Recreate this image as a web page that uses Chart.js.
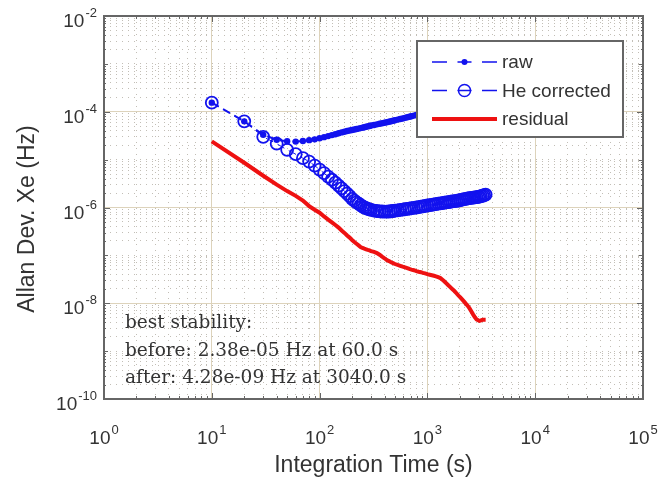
<!DOCTYPE html>
<html>
<head>
<meta charset="utf-8">
<script src="https://cdn.jsdelivr.net/npm/chart.js@4"></script>
<style>
body { margin: 0; background: #fff; }
#wrap { width: 663px; height: 480px; position: relative; }
</style>
</head>
<body>
<div id="wrap"><canvas id="myChart"></canvas></div>
<script>
// integration times (s)
const tau = [10, 20, 30, 40, 50, 60, 70, 80, 90, 100, 110, 120, 130, 140, 150, 160, 170, 180, 190, 200,
    210, 220, 230, 240, 250, 260, 270, 280, 290, 300,
    320, 340, 360, 380, 400, 420, 440, 460, 480, 500,
    530, 560, 590, 620, 650, 680, 710, 750, 790, 830, 870, 910, 950, 1000,
    1050, 1100, 1150, 1200, 1260, 1320, 1380, 1440, 1500, 1570, 1640, 1710, 1780, 1860, 1940, 2020,
    2100, 2190, 2280, 2370, 2460, 2560, 2660, 2760, 2860, 2960, 3040, 3140, 3250, 3360, 3470];

const rawDev = [1.55e-4, 6.3e-5, 3.3e-5, 2.6e-5, 2.42e-5, 2.38e-5, 2.45e-5, 2.55e-5, 2.65e-5, 2.8e-5,
    2.95e-5, 3.1e-5, 3.25e-5, 3.4e-5, 3.55e-5, 3.7e-5, 3.82e-5, 3.95e-5, 4.05e-5, 4.15e-5,
    4.25e-5, 4.35e-5, 4.45e-5, 4.55e-5, 4.65e-5, 4.75e-5, 4.85e-5, 4.95e-5, 5.05e-5, 5.15e-5,
    5.3e-5, 5.45e-5, 5.6e-5, 5.75e-5, 5.9e-5, 6.05e-5, 6.2e-5, 6.35e-5, 6.5e-5, 6.65e-5,
    6.85e-5, 7.05e-5, 7.25e-5, 7.45e-5, 7.65e-5, 7.85e-5, 8.05e-5, 8.3e-5, 8.55e-5, 8.8e-5, 9.05e-5, 9.3e-5, 9.55e-5, 9.8e-5,
    1.01e-4, 1.04e-4, 1.07e-4, 1.1e-4, 1.13e-4, 1.16e-4, 1.19e-4, 1.22e-4, 1.25e-4, 1.28e-4, 1.31e-4, 1.34e-4, 1.37e-4, 1.41e-4, 1.45e-4, 1.49e-4,
    1.53e-4, 1.57e-4, 1.61e-4, 1.65e-4, 1.69e-4, 1.73e-4, 1.77e-4, 1.81e-4, 1.85e-4, 1.89e-4, 1.92e-4, 1.96e-4, 2.0e-4, 2.04e-4, 2.08e-4];

const heCorrected = [1.55e-4, 6.3e-5, 3.0e-5, 2.15e-5, 1.6e-5, 1.3e-5, 1.07e-5, 9.1e-6, 7.5e-6, 6.2e-6,
    5.2e-6, 4.4e-6, 3.8e-6, 3.3e-6, 2.85e-6, 2.5e-6, 2.2e-6, 1.95e-6, 1.72e-6, 1.52e-6,
    1.39e-6, 1.28e-6, 1.2e-6, 1.12e-6, 1.06e-6, 1.0e-6, 9.7e-7, 9.4e-7, 9.1e-7, 8.9e-7,
    8.6e-7, 8.45e-7, 8.3e-7, 8.25e-7, 8.2e-7, 8.2e-7, 8.25e-7, 8.35e-7, 8.45e-7, 8.6e-7,
    8.75e-7, 8.9e-7, 9.05e-7, 9.2e-7, 9.35e-7, 9.5e-7, 9.65e-7, 9.85e-7, 1.0e-6, 1.02e-6, 1.04e-6, 1.06e-6, 1.08e-6, 1.1e-6,
    1.12e-6, 1.14e-6, 1.16e-6, 1.18e-6, 1.2e-6, 1.22e-6, 1.24e-6, 1.26e-6, 1.28e-6, 1.3e-6, 1.32e-6, 1.34e-6, 1.36e-6, 1.38e-6, 1.4e-6, 1.43e-6,
    1.46e-6, 1.49e-6, 1.52e-6, 1.55e-6, 1.57e-6, 1.59e-6, 1.61e-6, 1.63e-6, 1.65e-6, 1.67e-6, 1.69e-6, 1.72e-6, 1.76e-6, 1.81e-6, 1.86e-6];

const residual = [2.4e-5, 8.6e-6, 4.6e-6, 3.0e-6, 2.2e-6, 1.75e-6, 1.4e-6, 1.07e-6, 9.0e-7, 7.8e-7,
    6.5e-7, 5.6e-7, 4.9e-7, 4.3e-7, 3.8e-7, 3.3e-7, 2.95e-7, 2.6e-7, 2.35e-7, 2.1e-7,
    1.9e-7, 1.75e-7, 1.62e-7, 1.5e-7, 1.43e-7, 1.38e-7, 1.34e-7, 1.3e-7, 1.27e-7, 1.23e-7,
    1.18e-7, 1.12e-7, 1.03e-7, 9.4e-8, 8.7e-8, 8.0e-8, 7.6e-8, 7.2e-8, 6.9e-8, 6.6e-8,
    6.3e-8, 6.05e-8, 5.8e-8, 5.6e-8, 5.4e-8, 5.2e-8, 5.05e-8, 4.9e-8, 4.7e-8, 4.55e-8, 4.45e-8, 4.3e-8, 4.2e-8, 4.05e-8,
    3.95e-8, 3.85e-8, 3.75e-8, 3.65e-8, 3.5e-8, 3.35e-8, 3.1e-8, 2.85e-8, 2.6e-8, 2.35e-8, 2.15e-8, 1.95e-8, 1.8e-8, 1.62e-8, 1.45e-8, 1.32e-8,
    1.2e-8, 1.08e-8, 9.7e-9, 8.8e-9, 7.8e-9, 6.7e-9, 5.8e-9, 5.1e-9, 4.6e-9, 4.4e-9, 4.28e-9, 4.4e-9, 4.5e-9, 4.5e-9, 4.5e-9];

const xLabelExps = [0, 1, 2, 3, 4, 5];
const yLabelExps = [-2, -4, -6, -8, -10];
const legendLabels = ['raw', 'He corrected', 'residual'];
const noteLines = ['best stability:', 'before: 2.38e-05 Hz at 60.0 s', 'after: 4.28e-09 Hz at 3040.0 s'];

const BLUE = '#1212ee';
const RED = '#ee1111';
const AXIS = '#666';
const TEXT = '#333';
const MAJOR_GRID = '#ddd3bb';
const MINOR_GRID = '#c2beb6';

function logTicks(lo, hi)
{
    let out = [];
    for (let n = lo; n < hi; n++)
    {
        for (let k = 1; k < 10; k++) out.push({value: k * Math.pow(10, n)});
    }
    out.push({value: Math.pow(10, hi)});
    return out;
}

function isDecade(v)
{
    const l = Math.log10(v);
    return Math.abs(l - Math.round(l)) < 1e-6;
}

function isMajorY(v)
{
    return isDecade(v) && Math.round(Math.log10(v)) % 2 === 0;
}

function points(ys)
{
    return tau.map((t, i) => ({x: t, y: ys[i]}));
}

function drawPow(ctx, exp, x, y, align)
{
    // "10" with raised exponent
    ctx.font = '19px "Liberation Sans", Arial, sans-serif';
    const wb = ctx.measureText('10').width;
    ctx.font = '13px "Liberation Sans", Arial, sans-serif';
    const e = String(exp);
    const we = ctx.measureText(e).width;
    const total = wb + we + 1;
    let left = align === 'right' ? x - total : x - total / 2;
    ctx.textAlign = 'left';
    ctx.textBaseline = 'alphabetic';
    ctx.font = '19px "Liberation Sans", Arial, sans-serif';
    ctx.fillText('10', left, y);
    ctx.font = '13px "Liberation Sans", Arial, sans-serif';
    ctx.fillText(e, left + wb + 1, y - 10);
}

const decor = {
    id: 'decor',
    afterDatasetsDraw(chart)
    {
        const {ctx, chartArea: a} = chart;
        ctx.save();

        // annotation text
        ctx.fillStyle = TEXT;
        ctx.font = '18.5px "DejaVu Serif", "Liberation Serif", serif';
        ctx.textAlign = 'left';
        ctx.textBaseline = 'alphabetic';
        noteLines.forEach((t, i) => ctx.fillText(t, a.left + 21, a.top + 312 + i * 27.5));

        // legend box
        const lx = a.right - 226, ly = a.top + 25, lw = 206, lh = 96;
        ctx.fillStyle = '#fff';
        ctx.fillRect(lx, ly, lw, lh);
        ctx.strokeStyle = AXIS;
        ctx.lineWidth = 2;
        ctx.strokeRect(lx, ly, lw, lh);

        legendLabels.forEach((label, i) =>
        {
            const yy = ly + 21 + i * 28.5;
            const x0 = lx + 15, x1 = lx + 80, xm = (x0 + x1) / 2;
            if (i < 2)
            {
                ctx.strokeStyle = BLUE;
                ctx.lineWidth = 1.5;
                ctx.beginPath();
                ctx.moveTo(x0, yy); ctx.lineTo(x0 + 15, yy);
                ctx.moveTo(x1 - 15, yy); ctx.lineTo(x1, yy);
                ctx.moveTo(xm - 7, yy); ctx.lineTo(xm + 7, yy);
                ctx.stroke();
                ctx.beginPath();
                if (i === 0)
                {
                    ctx.fillStyle = BLUE;
                    ctx.arc(xm, yy, 3, 0, Math.PI * 2);
                    ctx.fill();
                }
                else
                {
                    ctx.arc(xm, yy, 6, 0, Math.PI * 2);
                    ctx.stroke();
                }
            }
            else
            {
                ctx.strokeStyle = RED;
                ctx.lineWidth = 4;
                ctx.beginPath();
                ctx.moveTo(x0, yy); ctx.lineTo(x1, yy);
                ctx.stroke();
            }
            ctx.fillStyle = TEXT;
            ctx.font = '19px "Liberation Sans", Arial, sans-serif';
            ctx.textBaseline = 'middle';
            ctx.fillText(label, lx + 85, yy + 1);
        });
        ctx.restore();
    },
    afterDraw(chart)
    {
        const {ctx, chartArea: a, scales: {x, y}} = chart;
        ctx.save();

        // inward ticks on all four sides
        ctx.strokeStyle = AXIS;
        ctx.lineWidth = 1;
        ctx.beginPath();
        x.ticks.forEach(t =>
        {
            const px = Math.round(x.getPixelForValue(t.value)) + 0.5;
            const len = isDecade(t.value) ? 6 : 3;
            ctx.moveTo(px, a.bottom); ctx.lineTo(px, a.bottom - len);
            ctx.moveTo(px, a.top); ctx.lineTo(px, a.top + len);
        });
        y.ticks.forEach(t =>
        {
            const py = Math.round(y.getPixelForValue(t.value)) + 0.5;
            const len = isMajorY(t.value) ? 6 : (isDecade(t.value) ? 4 : 2);
            ctx.moveTo(a.left, py); ctx.lineTo(a.left + len, py);
            ctx.moveTo(a.right, py); ctx.lineTo(a.right - len, py);
        });
        ctx.stroke();

        // axes box
        ctx.lineWidth = 2;
        ctx.strokeRect(a.left, a.top, a.right - a.left, a.bottom - a.top);

        // tick labels
        ctx.fillStyle = TEXT;
        xLabelExps.forEach(e => drawPow(ctx, e, x.getPixelForValue(Math.pow(10, e)), a.bottom + 45, 'center'));
        yLabelExps.forEach(e => drawPow(ctx, e, a.left - 7, y.getPixelForValue(Math.pow(10, e)) + 11, 'right'));

        // axis titles
        ctx.font = '23px "Liberation Sans", Arial, sans-serif';
        ctx.textAlign = 'center';
        ctx.textBaseline = 'middle';
        ctx.fillText('Integration Time (s)', (a.left + a.right) / 2, 466);
        ctx.translate(28, 219);
        ctx.rotate(-Math.PI / 2);
        ctx.fillText('Allan Dev. Xe (Hz)', 0, 0);
        ctx.restore();
    }
};

window.addEventListener("load", () =>
{
    let ctx = document.getElementById('myChart').getContext('2d');
    new Chart(ctx, {
        type: 'scatter',
        data: {
            datasets: [
                {
                    label: legendLabels[0],
                    data: points(rawDev),
                    showLine: true,
                    borderColor: BLUE,
                    backgroundColor: BLUE,
                    borderWidth: 2,
                    borderDash: [8, 5],
                    pointRadius: 3.2,
                    pointBorderWidth: 0
                },
                {
                    label: legendLabels[1],
                    data: points(heCorrected),
                    showLine: true,
                    borderColor: BLUE,
                    backgroundColor: 'rgba(0,0,0,0)',
                    borderWidth: 1,
                    borderDash: [8, 5],
                    pointRadius: 6,
                    pointBorderWidth: 1.8,
                    pointBorderColor: BLUE
                },
                {
                    label: legendLabels[2],
                    data: points(residual),
                    showLine: true,
                    borderColor: RED,
                    borderWidth: 4,
                    pointRadius: 0,
                    tension: 0
                }
            ]
        },
        options: {
            responsive: true,
            maintainAspectRatio: false,
            animation: false,
            events: [],
            layout: {padding: {left: 0, top: 16, right: 20, bottom: 0}},
            plugins: {legend: {display: false}, tooltip: {enabled: false}},
            scales: {
                x: {
                    type: 'logarithmic',
                    min: 1,
                    max: 1e5,
                    afterBuildTicks: s => { s.ticks = logTicks(0, 5); },
                    afterFit: s => { s.height = 81; },
                    ticks: {display: false},
                    grid: {
                        color: c => isDecade(c.tick.value) ? MAJOR_GRID : MINOR_GRID,
                        lineWidth: 1,
                        drawTicks: false
                    },
                    border: {display: false, dash: c => (c.tick && !isDecade(c.tick.value)) ? [1, 5] : []}
                },
                y: {
                    type: 'logarithmic',
                    min: 1e-10,
                    max: 1e-2,
                    afterBuildTicks: s => { s.ticks = logTicks(-10, -2); },
                    afterFit: s => { s.width = 104; },
                    ticks: {display: false},
                    grid: {
                        color: c => isMajorY(c.tick.value) ? MAJOR_GRID : MINOR_GRID,
                        lineWidth: 1,
                        drawTicks: false
                    },
                    border: {display: false, dash: c => (c.tick && !isMajorY(c.tick.value)) ? [1, 5] : []}
                }
            }
        },
        plugins: [decor]
    });
});
</script>
</body>
</html>
